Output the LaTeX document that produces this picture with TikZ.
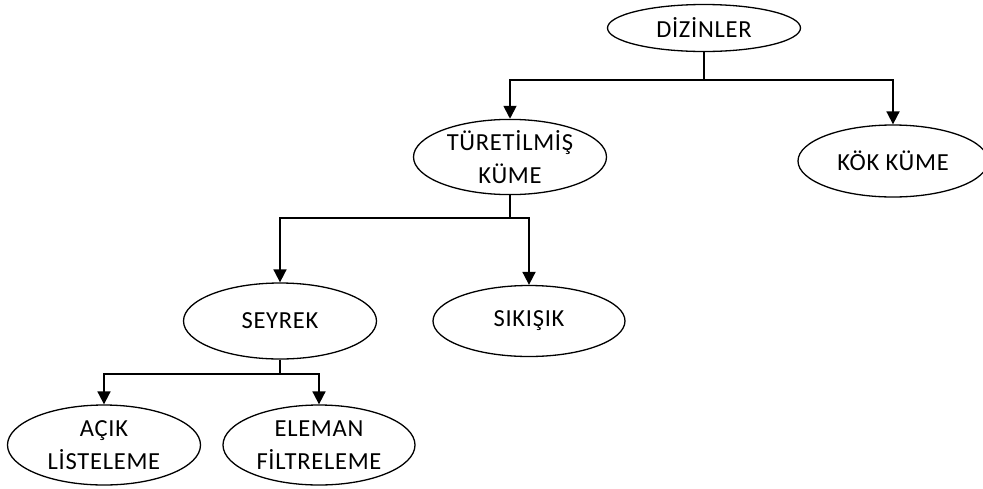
\documentclass[tikz,border=0pt]{standalone}
\usepackage{fontspec}
\setmainfont{Carlito}[LetterSpace=3]
\usetikzlibrary{shapes.geometric,arrows.meta}
\begin{document}
\begin{tikzpicture}[x=1pt,y=-1pt,
  oval/.style={ellipse,draw,line width=1.3pt,inner sep=0pt,align=center,
    font=\fontsize{24.5}{33}\selectfont},
  conn/.style={line width=1.8pt},
  arr/.style={conn,-{Triangle[length=13pt,width=13pt]}}]
\useasboundingbox (0,0) rectangle (983,488);
\node[oval,minimum width=193pt,minimum height=47pt] (diz) at (704,28) {DİZİNLER};
\node[oval,minimum width=193pt,minimum height=70pt] (tur) at (510,157) {TÜRETİLMİŞ\\KÜME};
\node[oval,minimum width=190pt,minimum height=72pt] (kok) at (893,161) {KÖK KÜME};
\node[oval,minimum width=193pt,minimum height=76pt] (sey) at (280,321) {SEYREK};
\node[oval,minimum width=192pt,minimum height=71pt] (sik) at (529,321) {SIKIŞIK};
\node[oval,minimum width=193pt,minimum height=80pt] (acik) at (104,445) {AÇIK\\LİSTELEME};
\node[oval,minimum width=192pt,minimum height=80pt] (ele) at (319,445) {ELEMAN\\FİLTRELEME};
\coordinate (j1) at (704,80);
\coordinate (j2) at (510,218);
\coordinate (j3) at (280,374);
\draw[conn] (diz.south) -- (j1);
\draw[arr] (j1) -| (tur.north);
\draw[arr] (j1) -| (kok.north);
\draw[conn] (tur.south) -- (j2);
\draw[arr] (j2) -| (sey.north);
\draw[arr] (j2) -| (sik.north);
\draw[conn] (sey.south) -- (j3);
\draw[arr] (j3) -| (acik.north);
\draw[arr] (j3) -| (ele.north);
\end{tikzpicture}
\end{document}
